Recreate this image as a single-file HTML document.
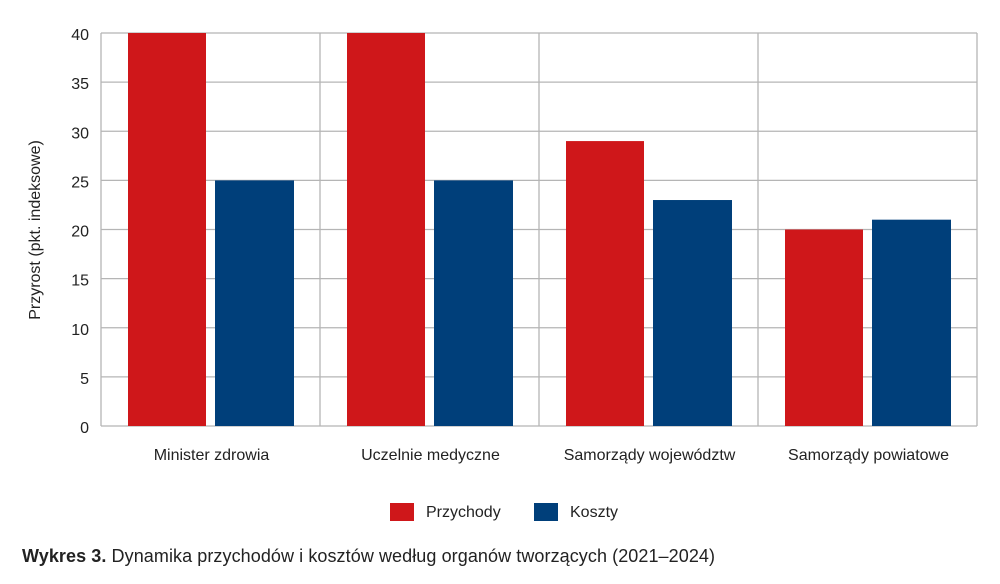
<!DOCTYPE html>
<html><head><meta charset="utf-8"><style>
body{margin:0;background:#fff;font-family:"Liberation Sans",sans-serif;}
</style></head><body>
<svg id="chart" width="1000" height="584" xmlns="http://www.w3.org/2000/svg" style="display:block"></svg>
<script>
const categories=["Minister zdrowia","Uczelnie medyczne","Samorządy województw","Samorządy powiatowe"];
const przychody=[40,40,29,20];
const koszty=[25,25,23,21];
const yTicks=[0,5,10,15,20,25,30,35,40];
const NS="http://www.w3.org/2000/svg";
const svg=document.getElementById('chart');
const L=101,R=977,T=33,B=426,yMax=40;
const gw=(R-L)/categories.length;
function y(v){return B-(Math.min(v,yMax)/yMax)*(B-T);}
function mk(t,a,txt){const e=document.createElementNS(NS,t);for(const k in a)e.setAttribute(k,a[k]);if(txt!==undefined)e.textContent=txt;svg.appendChild(e);return e;}
yTicks.forEach(v=>{
 const g=mk('line',{x1:L,x2:R,y1:y(v),y2:y(v),stroke:'#b5b5b5','stroke-width':1.3});
 
 
 const t=mk('text',{x:89,y:y(v)+7,'text-anchor':'end','font-size':16,fill:'#222'},v);
 
 
});
for(let i=0;i<=categories.length;i++){
 const l=mk('line',{x1:L+i*gw,x2:L+i*gw,y1:T,y2:B,stroke:'#b5b5b5','stroke-width':1.3});
 
 
}
categories.forEach((c,i)=>{
 const x0=L+i*gw;
 const r=mk('rect',{x:x0+27,y:y(przychody[i]),width:78,height:B-y(przychody[i]),fill:'#cf171a'});
 
 
 const b=mk('rect',{x:x0+114,y:y(koszty[i]),width:79,height:B-y(koszty[i]),fill:'#003f7a'});
 
 
 const t=mk('text',{x:x0+gw/2+1,y:460,'text-anchor':'middle','font-size':16,fill:'#222'},c);
 
 
});
const yt=mk('text',{transform:'translate(40,230) rotate(-90)','text-anchor':'middle','font-size':16,fill:'#222'},'Przyrost (pkt. indeksowe)');


const l1=mk('rect',{x:390,y:503,width:24,height:18,fill:'#cf171a'});


const l1t=mk('text',{x:426,y:517,'font-size':16,fill:'#222'},'Przychody');


const l2=mk('rect',{x:534,y:503,width:24,height:18,fill:'#003f7a'});


const l2t=mk('text',{x:570,y:517,'font-size':16,fill:'#222'},'Koszty');


const cap=mk('text',{x:22,y:562,'font-size':18,fill:'#222',textLength:693,lengthAdjust:'spacing'});


const cb=document.createElementNS(NS,'tspan');cb.setAttribute('font-weight','bold');cb.textContent='Wykres 3.';cap.appendChild(cb);
const cr=document.createElementNS(NS,'tspan');cr.textContent=' Dynamika przychodów i kosztów według organów tworzących (2021–2024)';cap.appendChild(cr);
</script>
</body></html>
